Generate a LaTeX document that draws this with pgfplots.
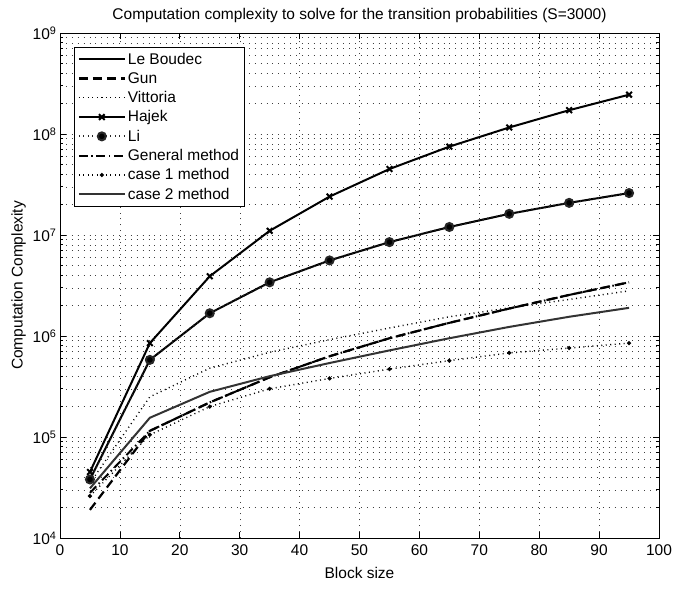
\documentclass[border=0pt]{standalone}
\usepackage{pgfplots}
\pgfplotsset{compat=1.18}
\usepackage{fontspec}
\setmainfont{Liberation Sans}
\begin{document}
\begin{tikzpicture}
\useasboundingbox (-60pt,-51pt) rectangle (615pt,538pt);
\begin{axis}[
  scale only axis,
  width=599pt, height=505pt,
  ymode=log,
  xmin=0, xmax=100, ymin=1e4, ymax=1e9,
  xtick={0,10,...,100},
  ytick={1e4,1e5,1e6,1e7,1e8,1e9},
  yticklabels={10\textsuperscript{4},10\textsuperscript{5},10\textsuperscript{6},10\textsuperscript{7},10\textsuperscript{8},10\textsuperscript{9}},
  /pgf/number format/assume math mode=true,
  tick label style={font=\fontsize{15.5}{18}\selectfont},
  xticklabel style={yshift=-3pt},
  label style={font=\fontsize{15.5}{18}\selectfont},
  xlabel style={yshift=-5pt},
  title style={font=\fontsize{15.5}{18}\selectfont, yshift=1pt},
  xlabel={Block size},
  ylabel={Computation Complexity},
  title={Computation complexity to solve for the transition probabilities (S=3000)},
  grid=both,
  major grid style={black!75, dash pattern=on 0.9pt off 5pt},
  minor grid style={black!75, dash pattern=on 0.9pt off 5pt},
  tick align=inside,
  major tick length=6pt, minor tick length=3pt,
  axis line style={line width=0.9pt},
  every tick/.style={black, line width=0.7pt},
  legend cell align=left,
  legend style={at={(0.023,0.972)}, anchor=north west, draw=black, line width=0.9pt,
    font=\fontsize{15.5}{19}\selectfont, row sep=2.6pt, inner sep=3.5pt},
  legend image code/.code={\draw[mark repeat=2,mark phase=2,#1] plot coordinates {(0pt,0pt) (23pt,0pt) (46pt,0pt)};},
]
% Le Boudec
\addplot[black, line width=2pt] coordinates {
(5,3.8e4) (15,5.8e5) (25,1.68e6) (35,3.4e6) (45,5.6e6) (55,8.5e6) (65,1.2e7) (75,1.62e7) (85,2.08e7) (95,2.6e7)};
\addlegendentry{Le Boudec}
% Gun
\addplot[black, line width=2.2pt, dash pattern=on 9pt off 5pt] coordinates {
(5,1.9e4) (15,1.15e5) (25,2.2e5) (35,3.9e5) (45,6.3e5) (55,9.5e5) (65,1.35e6) (75,1.87e6) (85,2.55e6) (95,3.4e6)};
\addlegendentry{Gun}
% Vittoria
\addplot[black, line width=1.4pt, dash pattern=on 1pt off 3.5pt] coordinates {
(5,3.5e4) (15,2.5e5) (25,4.8e5) (35,6.9e5) (45,9.2e5) (55,1.2e6) (65,1.55e6) (75,1.9e6) (85,2.3e6) (95,2.8e6)};
\addlegendentry{Vittoria}
% Hajek
\addplot[black, line width=2pt, mark=x, mark size=4pt, mark options={solid, line width=2pt}] coordinates {
(5,4.5e4) (15,8.5e5) (25,3.9e6) (35,1.1e7) (45,2.4e7) (55,4.5e7) (65,7.5e7) (75,1.16e8) (85,1.72e8) (95,2.45e8)};
\addlegendentry{Hajek}
% Li
\addplot[black!85, line width=2pt, dash pattern=on 1pt off 3.5pt, mark=*, mark size=4pt, mark options={solid, fill=black}] coordinates {
(5,3.8e4) (15,5.8e5) (25,1.68e6) (35,3.4e6) (45,5.6e6) (55,8.5e6) (65,1.2e7) (75,1.62e7) (85,2.08e7) (95,2.6e7)};
\addlegendentry{Li}
% General method
\addplot[black, line width=2pt, dash pattern=on 9pt off 3.5pt on 1.5pt off 3.5pt] coordinates {
(5,2.8e4) (15,1.15e5) (25,2.2e5) (35,3.9e5) (45,6.3e5) (55,9.5e5) (65,1.35e6) (75,1.87e6) (85,2.55e6) (95,3.4e6)};
\addlegendentry{General method}
% case 1 method
\addplot[black, line width=1.4pt, dash pattern=on 1pt off 3.5pt, mark=*, mark size=1.3pt, mark options={solid}] coordinates {
(5,2.6e4) (15,1.05e5) (25,2.0e5) (35,3.0e5) (45,3.8e5) (55,4.7e5) (65,5.7e5) (75,6.8e5) (85,7.6e5) (95,8.5e5)};
\addlegendentry{case 1 method}
% case 2 method
\addplot[black!80, line width=2pt] coordinates {
(5,3.1e4) (15,1.55e5) (25,2.8e5) (35,4.0e5) (45,5.4e5) (55,7.2e5) (65,9.5e5) (75,1.23e6) (85,1.55e6) (95,1.9e6)};
\addlegendentry{case 2 method}
\end{axis}
\end{tikzpicture}
\end{document}
